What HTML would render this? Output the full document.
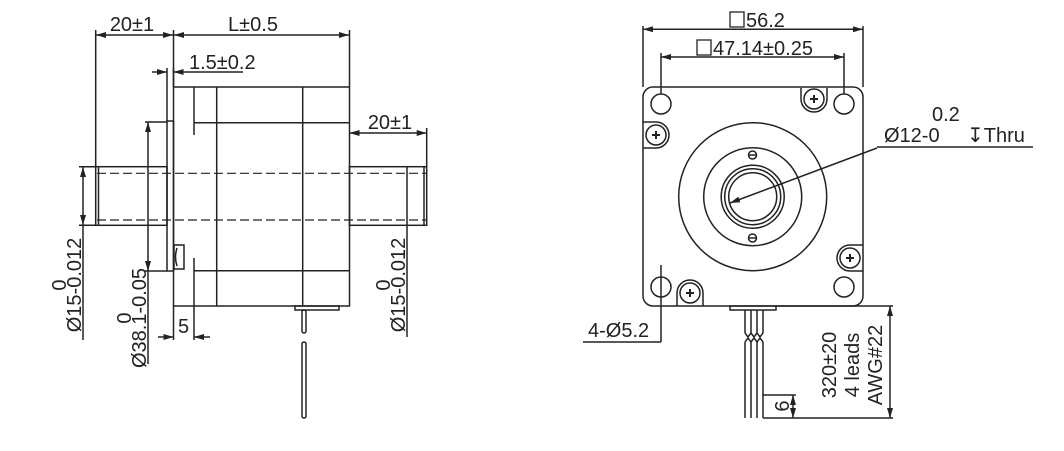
<!DOCTYPE html>
<html><head><meta charset="utf-8"><style>
html,body{margin:0;padding:0;background:#fff;}
svg{display:block;}
text{font-family:"Liberation Sans","DejaVu Sans",sans-serif;font-size:20px;fill:#222;}
</style></head><body>
<svg width="1064" height="451" viewBox="0 0 1064 451" xmlns="http://www.w3.org/2000/svg">
<defs>
<marker id="a" viewBox="0 0 10 6" refX="10" refY="3" markerWidth="10" markerHeight="6" orient="auto-start-reverse" markerUnits="userSpaceOnUse"><path d="M0,0 L10,3 L0,6 z" fill="#222"/></marker>
</defs>
<g stroke="#222" stroke-width="1.5" fill="none">
<!-- LEFT VIEW -->
<rect x="167" y="121" width="6.5" height="150"/>
<rect x="173.5" y="87" width="176" height="219"/>
<line x1="216.7" y1="87" x2="216.7" y2="306"/>
<line x1="302.7" y1="87" x2="302.7" y2="306"/>
<line x1="194" y1="87" x2="194" y2="135"/>
<line x1="194" y1="258" x2="194" y2="340"/>
<line x1="194" y1="122.7" x2="349.5" y2="122.7"/>
<line x1="194" y1="270.7" x2="349.5" y2="270.7"/>
<rect x="95.7" y="166.7" width="71.3" height="58.6"/>
<rect x="349.5" y="166.7" width="77.2" height="58.6"/>
<line x1="98.5" y1="167" x2="98.5" y2="225"/>
<line x1="407" y1="167" x2="407" y2="225"/>
<line x1="424" y1="167" x2="424" y2="225"/>
<line x1="97" y1="173.3" x2="426" y2="173.3" stroke-dasharray="9 4" stroke-width="1.2"/>
<line x1="97" y1="220" x2="426" y2="220" stroke-dasharray="9 4" stroke-width="1.2"/>
<rect x="174" y="245" width="10" height="24"/>
<path d="M177,248 Q174,257 177,266"/>
<rect x="295" y="306" width="44" height="4"/>
<rect x="302" y="310" width="4" height="23" rx="2"/>
<rect x="302" y="342" width="4" height="76" rx="2"/>
<!-- left dims -->
<line x1="95.7" y1="30" x2="95.7" y2="166"/>
<line x1="173.5" y1="30" x2="173.5" y2="87"/>
<line x1="349.5" y1="30" x2="349.5" y2="87"/>
<line x1="96" y1="35" x2="173" y2="35" marker-start="url(#a)" marker-end="url(#a)"/>
<line x1="174" y1="35" x2="349" y2="35" marker-start="url(#a)" marker-end="url(#a)"/>
<line x1="152" y1="72" x2="167" y2="72" marker-end="url(#a)"/>
<line x1="243" y1="72" x2="173.5" y2="72" marker-end="url(#a)"/>
<line x1="167" y1="68" x2="167" y2="121"/>
<line x1="173.5" y1="68" x2="173.5" y2="87"/>
<line x1="349.5" y1="133" x2="426.7" y2="133" marker-start="url(#a)" marker-end="url(#a)"/>
<line x1="426.7" y1="128" x2="426.7" y2="166"/>
<line x1="79" y1="166.7" x2="96" y2="166.7"/>
<line x1="79" y1="225.3" x2="96" y2="225.3"/>
<line x1="83" y1="167" x2="83" y2="225" marker-start="url(#a)" marker-end="url(#a)"/>
<line x1="83" y1="225" x2="83" y2="340"/>
<line x1="145" y1="122" x2="167" y2="122"/>
<line x1="145" y1="271" x2="167" y2="271"/>
<line x1="148" y1="122" x2="148" y2="271" marker-start="url(#a)" marker-end="url(#a)"/>
<line x1="148" y1="271" x2="148" y2="364"/>
<line x1="173.5" y1="306" x2="173.5" y2="340"/>
<line x1="158" y1="337" x2="173.5" y2="337" marker-end="url(#a)"/>
<line x1="210" y1="337" x2="194" y2="337" marker-end="url(#a)"/>
<line x1="407" y1="225" x2="407" y2="337"/>
</g>
<g>
<text x="132" y="31" text-anchor="middle">20±1</text>
<text x="253" y="31" text-anchor="middle">L±0.5</text>
<text x="189" y="69">1.5±0.2</text>
<text x="390" y="129" text-anchor="middle">20±1</text>
<text x="183.5" y="333" text-anchor="middle">5</text>
<text transform="translate(66,285) rotate(-90)" text-anchor="middle">0</text>
<text transform="translate(81,285) rotate(-90)" text-anchor="middle">Ø15-0.012</text>
<text transform="translate(131,318) rotate(-90)" text-anchor="middle">0</text>
<text transform="translate(146,318) rotate(-90)" text-anchor="middle">Ø38.1-0.05</text>
<text transform="translate(390,285) rotate(-90)" text-anchor="middle">0</text>
<text transform="translate(405,285) rotate(-90)" text-anchor="middle">Ø15-0.012</text>
</g>
<!-- RIGHT VIEW -->
<g stroke="#222" stroke-width="1.5" fill="none">
<rect x="643" y="87" width="220" height="219" rx="10"/>
<circle cx="661" cy="104" r="10"/>
<circle cx="844" cy="104" r="10"/>
<circle cx="661" cy="287" r="10"/>
<circle cx="844" cy="287" r="10"/>
<circle cx="752.7" cy="196.7" r="74"/>
<circle cx="752.7" cy="196.7" r="49"/>
<circle cx="752.7" cy="196.7" r="31.5"/>
<circle cx="752.7" cy="196.7" r="28"/>
<circle cx="752.7" cy="196.7" r="24"/>
<circle cx="752.5" cy="155" r="4"/><line x1="749" y1="155" x2="756" y2="155"/>
<circle cx="752.5" cy="238" r="4"/><line x1="749" y1="238" x2="756" y2="238"/>
<circle cx="814" cy="99" r="10"/><path d="M801,99 A13,13 0 0 0 827,99 L827,88"/><path d="M801,99 L801,88"/>
<circle cx="656" cy="135" r="10"/><path d="M656,122 A13,13 0 0 1 656,148 L643,148"/><path d="M656,122 L643,122"/>
<circle cx="850" cy="258" r="10"/><path d="M850,245 A13,13 0 0 0 850,271 L863,271"/><path d="M850,245 L863,245"/>
<circle cx="690" cy="293" r="10"/><path d="M677,293 A13,13 0 0 1 703,293 L703,306"/><path d="M677,293 L677,306"/>
<g stroke-width="2">
<path d="M810,99h8M814,95v8"/><path d="M652,135h8M656,131v8"/><path d="M846,258h8M850,254v8"/><path d="M686,293h8M690,289v8"/>
</g>
<line x1="730" y1="203" x2="877" y2="148" marker-start="url(#a)"/>
<line x1="877" y1="147" x2="1033" y2="147"/>
<rect x="730" y="306" width="46" height="4"/>
<path d="M745,310v23M751,310v23M757,310v23M763,310v23"/>
<path d="M745,342v76M751,342v76M757,342v76M763,342v76"/>
<path d="M745,333l3,4l3,-4l3,4l3,-4l3,4l3,-4"/>
<path d="M745,342l3,-4l3,4l3,-4l3,4l3,-4l3,4"/>
<line x1="643" y1="26" x2="643" y2="87"/>
<line x1="863" y1="26" x2="863" y2="87"/>
<line x1="643" y1="29.3" x2="863" y2="29.3" marker-start="url(#a)" marker-end="url(#a)"/>
<line x1="661" y1="53" x2="661" y2="94"/>
<line x1="844" y1="53" x2="844" y2="94"/>
<line x1="661" y1="57" x2="844" y2="57" marker-start="url(#a)" marker-end="url(#a)"/>
<line x1="661" y1="265" x2="661" y2="342"/>
<line x1="583" y1="342" x2="661" y2="342"/>
<line x1="776" y1="306" x2="893" y2="306"/>
<line x1="763" y1="418" x2="893" y2="418"/>
<line x1="890" y1="306" x2="890" y2="418" marker-start="url(#a)" marker-end="url(#a)"/>
<line x1="763" y1="395" x2="796" y2="395"/>
<line x1="793" y1="395" x2="793" y2="418" marker-start="url(#a)" marker-end="url(#a)"/>
</g>
<g>
<rect x="730" y="12" width="14" height="15" fill="none" stroke="#222" stroke-width="1.3"/>
<text x="746" y="27">56.2</text>
<rect x="697" y="40" width="14" height="15" fill="none" stroke="#222" stroke-width="1.3"/>
<text x="713" y="55">47.14±0.25</text>
<text x="884" y="142">Ø12-0</text>
<text x="932" y="121">0.2</text>
<text x="967" y="142">↧Thru</text>
<text x="588" y="337">4-Ø5.2</text>
<text transform="translate(789,406) rotate(-90)" text-anchor="middle">6</text>
<text transform="translate(836,365) rotate(-90)" text-anchor="middle">320±20</text>
<text transform="translate(859,365) rotate(-90)" text-anchor="middle">4 leads</text>
<text transform="translate(882,365) rotate(-90)" text-anchor="middle">AWG#22</text>
</g>
</svg>
</body></html>
